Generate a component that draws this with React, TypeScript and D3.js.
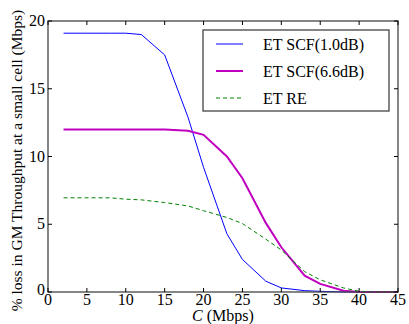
import React, { useRef, useEffect } from "react";
import * as d3 from "d3";

// data
const capacity = [2, 5, 8, 10, 12, 15, 18, 20, 23, 25, 28, 30, 33, 35, 38, 40, 43, 45];
const scf10 = [19.1, 19.1, 19.1, 19.1, 19.0, 17.5, 12.9, 9.2, 4.3, 2.4, 0.8, 0.3, 0.1, 0.05, 0, 0, 0, 0];
const scf66 = [12.0, 12.0, 12.0, 12.0, 12.0, 12.0, 11.9, 11.6, 10.0, 8.4, 5.1, 3.3, 1.2, 0.6, 0.1, 0, 0, 0];
const etRe = [6.95, 6.95, 6.95, 6.85, 6.8, 6.6, 6.35, 6.0, 5.5, 5.05, 3.9, 3.1, 1.5, 0.9, 0.3, 0.05, 0, 0];
const xTicks = [0, 5, 10, 15, 20, 25, 30, 35, 40, 45];
const yTicks = [0, 5, 10, 15, 20];

const seriesNames = ["ET SCF(1.0dB)", "ET SCF(6.6dB)", "ET RE"];
const seriesColors = ["#0000ff", "#bf00bf", "#008000"];
const seriesWidths = [1, 2, 1];
const seriesDash = [null, null, "4,3"];

const font = "'Liberation Serif', 'Times New Roman', Times, Tinos, 'Noto Serif', 'DejaVu Serif', FreeSerif, serif";

export default function App() {
  const ref = useRef<SVGSVGElement>(null);

  useEffect(() => {
    const width = 409, height = 324;
    const margin = { top: 21, right: 11, bottom: 32, left: 48 };
    const svg = d3.select(ref.current);
    svg.selectAll("*").remove();
    svg.attr("width", width).attr("height", height);

    const x = d3.scaleLinear().domain([0, 45]).range([margin.left, width - margin.right]);
    const y = d3.scaleLinear().domain([0, 20]).range([height - margin.bottom, margin.top]);

    svg.append("rect").attr("width", width).attr("height", height).attr("fill", "#fff");

    // lines
    const all = [scf10, scf66, etRe];
    const line = d3.line<number>().x((_, i) => x(capacity[i])).y(d => y(d));
    all.forEach((vals, k) => {
      svg.append("path")
        .datum(vals)
        .attr("d", line)
        .attr("fill", "none")
        .attr("stroke", seriesColors[k])
        .attr("stroke-width", seriesWidths[k])
        .attr("stroke-dasharray", seriesDash[k]);
    });

    // frame
    svg.append("rect")
      .attr("x", x(0)).attr("y", y(20))
      .attr("width", x(45) - x(0)).attr("height", y(0) - y(20))
      .attr("fill", "none").attr("stroke", "#444").attr("stroke-width", 1.3);

    const txt = (sel: any) => sel.style("font-family", font).attr("fill", "#000");

    // inward ticks on all sides
    const tl = 4;
    xTicks.forEach(t => {
      svg.append("line").attr("x1", x(t)).attr("x2", x(t)).attr("y1", y(0)).attr("y2", y(0) - tl).attr("stroke", "#000");
      svg.append("line").attr("x1", x(t)).attr("x2", x(t)).attr("y1", y(20)).attr("y2", y(20) + tl).attr("stroke", "#000");
      svg.append("text").call(txt).attr("x", x(t)).attr("y", y(0) + 13)
        .attr("text-anchor", "middle").attr("font-size", 16).text(t);
    });
    yTicks.forEach(t => {
      svg.append("line").attr("x1", x(0)).attr("x2", x(0) + tl).attr("y1", y(t)).attr("y2", y(t)).attr("stroke", "#000");
      svg.append("line").attr("x1", x(45)).attr("x2", x(45) - tl).attr("y1", y(t)).attr("y2", y(t)).attr("stroke", "#000");
      svg.append("text").call(txt).attr("x", x(0) - 3).attr("y", y(t) + (t === 0 ? 3 : 5))
        .attr("text-anchor", "end").attr("font-size", 16).text(t);
    });

    // axis labels
    const xl = svg.append("text").call(txt).attr("x", (x(0) + x(45)) / 2).attr("y", height - 3)
      .attr("text-anchor", "middle").attr("font-size", 16);
    xl.append("tspan").attr("font-style", "italic").text("C");
    xl.append("tspan").text(" (Mbps)");

    svg.append("text").call(txt)
      .attr("transform", `translate(22,${(y(0) + y(20)) / 2 + 4}) rotate(-90)`)
      .attr("text-anchor", "middle").attr("font-size", 15.5)
      .text("% loss in GM Throughput at a small cell (Mbps)");

    // legend
    const lg = svg.append("g").attr("transform", "translate(203,30)");
    lg.append("rect").attr("width", 186).attr("height", 81)
      .attr("fill", "#fff").attr("stroke", "#444").attr("stroke-width", 1.3);
    seriesNames.forEach((name, k) => {
      const yy = 14 + k * 27;
      lg.append("line").attr("x1", 13).attr("x2", 40).attr("y1", yy).attr("y2", yy)
        .attr("stroke", seriesColors[k]).attr("stroke-width", seriesWidths[k])
        .attr("stroke-dasharray", seriesDash[k]);
      lg.append("text").call(txt).attr("x", 60).attr("y", yy + 6).attr("font-size", 16).text(name);
    });
  }, []);

  return <svg ref={ref} style={{ position: "absolute", left: 0, top: 0 }}></svg>;
}
